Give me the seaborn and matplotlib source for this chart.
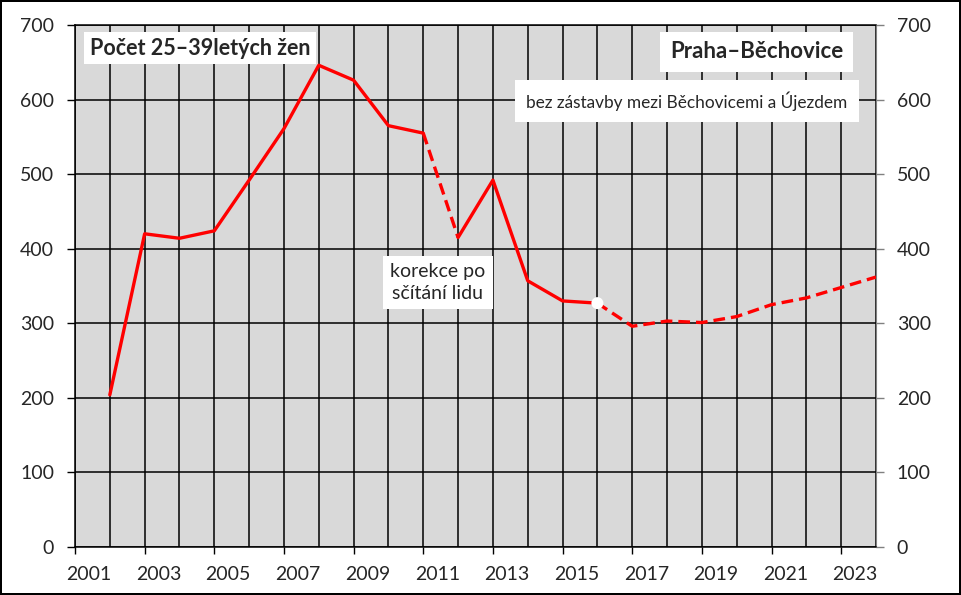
import pandas as pd
import matplotlib
matplotlib.use('Agg')
import matplotlib.pyplot as plt
import matplotlib.transforms as mtransforms
import seaborn as sns

#------------------------------------------------------------------------------------
# data (poloha na ose = konec roku)
years = list(range(2002, 2025))
women = [204, 420, 414, 424, 492, 561, 646, 626, 565, 555, 415, 492,
         357, 330, 327, 296, 303, 301, 309, 325, 334, 348, 362]
x_labels = [str(y) for y in range(2001, 2024, 2)]
y_ticks = list(range(0, 701, 100))

df = pd.DataFrame({'rok': years, 'pocet': women})

# úseky čáry: plné a čárkované
solid_parts = [(2002, 2011), (2012, 2016)]
dashed_parts = [(2011, 2012), (2016, 2024)]
marker_year = 2016

#------------------------------------------------------------------------------------
sns.set_style('white')
plt.rcParams['font.family'] = ['Lato', 'DejaVu Sans']

fig = plt.figure(figsize=(9.61, 5.95), dpi=100, edgecolor='black', linewidth=1.5)
ax = fig.add_axes([75 / 961, 48 / 595, 801 / 961, 522 / 595])
ax.set_facecolor('#d9d9d9')

red = '#ff0000'
for a, b in solid_parts:
    part = df[(df['rok'] >= a) & (df['rok'] <= b)]
    sns.lineplot(data=part, x='rok', y='pocet', ax=ax, color=red, linewidth=2.4,
                 zorder=5)
for a, b in dashed_parts:
    part = df[(df['rok'] >= a) & (df['rok'] <= b)]
    sns.lineplot(data=part, x='rok', y='pocet', ax=ax, color=red, linewidth=2.4,
                 linestyle=(0, (3.5, 1.8)), zorder=5)

mk = df[df['rok'] == marker_year]
sns.scatterplot(data=mk, x='rok', y='pocet', ax=ax, color='white', s=75,
                edgecolor='none', zorder=6)

ax.set_xlim(2001, 2024)
ax.set_ylim(0, 700)
ax.set_xlabel('')
ax.set_ylabel('')

# mřížka po roce
ax.set_xticks(range(2001, 2025), minor=True)
ax.set_xticks(range(2001, 2024, 2))
ax.set_xticklabels(x_labels, fontsize=14)
ax.set_yticks(y_ticks)
ax.set_yticklabels([str(v) for v in y_ticks], fontsize=14)
ax.grid(True, which='both', axis='x', color='black', linewidth=1.1)
ax.grid(True, which='major', axis='y', color='black', linewidth=1.1)
ax.set_axisbelow(True)
ax.tick_params(axis='x', which='minor', length=0)
ax.tick_params(axis='x', which='major', direction='out', length=5, width=1,
               color='black', pad=9, bottom=True)
ax.tick_params(axis='y', direction='out', length=6, width=1, color='black',
               pad=9, left=True)

offset = mtransforms.ScaledTranslation(14 / 100, 0, fig.dpi_scale_trans)
for lbl in ax.get_xticklabels():
    lbl.set_transform(lbl.get_transform() + offset)

for s in ['left', 'bottom', 'top']:
    ax.spines[s].set_color('black')
    ax.spines[s].set_linewidth(1.1)
ax.spines['right'].set_color('#808080')

# pravá osa
ax2 = ax.twinx()
ax2.set_ylim(0, 700)
ax2.set_yticks(y_ticks)
ax2.set_yticklabels([str(v) for v in y_ticks], fontsize=14)
ax2.tick_params(axis='y', direction='out', length=6, width=1, color='#808080',
                pad=9, right=True)
for s in ax2.spines.values():
    s.set_visible(False)

#------------------------------------------------------------------------------------
# popisky
ax.text(2001.42, 669, 'Počet 25–39letých žen', fontsize=15.5, fontweight='bold',
        ha='left', va='center',
        bbox=dict(facecolor='white', edgecolor='none', pad=4), zorder=7)
ax.text(2020.58, 664, 'Praha–Běchovice', fontsize=16, fontweight='bold',
        ha='center', va='center', bbox=dict(facecolor='white', edgecolor='none', pad=7),
        zorder=7)
ax.text(2018.57, 598, 'bez zástavby mezi Běchovicemi a Újezdem', fontsize=12.4,
        ha='center', va='center', bbox=dict(facecolor='white', edgecolor='none', pad=8),
        zorder=7)
ax.text(2011.42, 355, 'korekce po\nsčítání lidu', fontsize=14, ha='center',
        va='center', linespacing=1.35,
        bbox=dict(facecolor='white', edgecolor='none', pad=5), zorder=7)

fig.savefig('out.png', dpi=100)
